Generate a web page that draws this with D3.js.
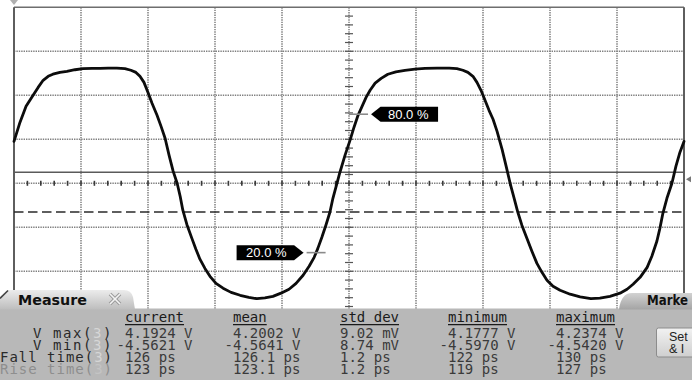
<!DOCTYPE html>
<html>
<head>
<meta charset="utf-8">
<script src="https://cdn.jsdelivr.net/npm/d3@7"></script>
<style>
  html, body { margin: 0; padding: 0; background: #fff; overflow: hidden; }
  svg { display: block; }
</style>
</head>
<body>
<script>
// Channel 3 acquisition: time in ps (relative to screen centre) and voltage in V
const timePs = [
  -1000,-982,-964,-943,-928,-913,-898,-884,-863,-842,
  -818,-794,-767,-743,-719,-693,-669,-651,-636,-624,
  -612,-600,-588,-573,-561,-549,-537,-525,-513,-504,
  -496,-484,-469,-457,-445,-430,-415,-397,-376,-352,
  -325,-299,-275,-251,-227,-203,-179,-158,-137,-119,
  -104,-93,-81,-69,-57,-48,-36,-27,-12,3,
  15,27,39,51,63,78,96,116,140,167,
  197,227,263,299,322,340,355,370,382,394,
  406,418,430,442,457,469,481,493,504,516,
  531,546,561,576,591,609,630,660,690,722,
  749,779,809,830,848,869,890,904,919,928,
  937,949,964,976,988,1000
];
const ch3Volts = [
  1.41,2.14,2.74,3.16,3.46,3.73,3.88,3.96,4.03,4.07,
  4.13,4.17,4.18,4.18,4.19,4.19,4.17,4.11,4.03,3.88,
  3.65,3.27,2.86,2.40,1.98,1.53,0.88,0.28,-0.18,-0.67,
  -1.20,-1.74,-2.27,-2.68,-3.06,-3.41,-3.71,-3.98,-4.16,-4.32,
  -4.43,-4.51,-4.56,-4.53,-4.47,-4.35,-4.20,-3.98,-3.67,-3.33,
  -2.99,-2.65,-2.23,-1.77,-1.28,-0.75,-0.18,0.24,0.88,1.45,
  1.95,2.40,2.74,3.08,3.35,3.62,3.80,3.96,4.05,4.11,
  4.15,4.18,4.19,4.19,4.17,4.11,4.03,3.88,3.65,3.35,
  2.97,2.59,2.25,1.79,1.11,0.47,-0.18,-0.75,-1.28,-1.77,
  -2.27,-2.76,-3.22,-3.56,-3.86,-4.09,-4.24,-4.39,-4.49,-4.56,
  -4.54,-4.47,-4.35,-4.20,-4.01,-3.75,-3.37,-2.95,-2.38,-1.89,
  -1.32,-0.75,-0.18,0.47,1.00,1.41
];

// Timebase and vertical setup
const timePerDiv = 200;     // ps/div
const voltsPerDiv = 1.67;   // V/div
const voltOffset = -0.18;   // V at screen centre
const hDivs = 10;
const vDivs = 8;

// On-screen reference levels (V)
const groundLevel = 0.24;
const triggerLevel = -1.27;

// Rise-time thresholds (percent of top-base)
const thresholdPercents = [80, 20];

// Measurement table
const measureNames   = ["V max", "V min", "Fall time", "Rise time"];
const measureSource  = ["3", "3", "3", "3"];
const measHeaders    = ["current", "mean", "std dev", "minimum", "maximum"];
const measCurrent    = ["4.1924 V", "-4.5621 V", "126 ps", "123 ps"];
const measMean       = ["4.2002 V", "-4.5641 V", "126.1 ps", "123.1 ps"];
const measStdDev     = ["9.02 mV", "8.74 mV", "1.2 ps", "1.2 ps"];
const measMinimum    = ["4.1777 V", "-4.5970 V", "122 ps", "119 ps"];
const measMaximum    = ["4.2374 V", "-4.5420 V", "130 ps", "127 ps"];
const vMaxCurrent = 4.1924;
const vMinCurrent = -4.5621;

// Tabs and button of the panel (only the part that fits on screen)
const panelTabs = ["Measure", "Marke"];
const buttonLines = ["Set", "& I"];

const W = 692, H = 380;
const svg = d3.select("body").append("svg").attr("width", W).attr("height", H);
svg.append("rect").attr("width", W).attr("height", H).attr("fill", "#fff");

const plot = { left: 14, right: 684, top: 7.3, bottom: 359.3 };
const x = d3.scaleLinear()
  .domain([-hDivs / 2 * timePerDiv, hDivs / 2 * timePerDiv])
  .range([plot.left, plot.right]);
const y = d3.scaleLinear()
  .domain([voltOffset - vDivs / 2 * voltsPerDiv, voltOffset + vDivs / 2 * voltsPerDiv])
  .range([plot.bottom, plot.top]);

// ---- graticule ----
const grid = svg.append("g");
const vLines = d3.range(1, hDivs).map(i => x.domain()[0] + i * timePerDiv);
const hLines = d3.range(0, vDivs).map(j => y.domain()[0] + j * voltsPerDiv);
grid.selectAll(".gv").data(vLines).join("line")
  .attr("x1", d => x(d)).attr("x2", d => x(d))
  .attr("y1", plot.top).attr("y2", plot.bottom)
  .attr("stroke", "#808080").attr("stroke-width", 1.5).attr("stroke-dasharray", "1.4,1");
grid.selectAll(".gh").data(hLines).join("line")
  .attr("x1", plot.left).attr("x2", plot.right)
  .attr("y1", d => y(d)).attr("y2", d => y(d))
  .attr("stroke", "#808080").attr("stroke-width", 1.5).attr("stroke-dasharray", "1.4,1");

// frame
grid.append("line").attr("x1", plot.left).attr("x2", plot.right)
  .attr("y1", plot.top).attr("y2", plot.top).attr("stroke", "#6e6e6e").attr("stroke-width", 1.6);
[plot.left, plot.right].forEach(px => grid.append("line")
  .attr("x1", px).attr("x2", px).attr("y1", plot.top).attr("y2", plot.bottom)
  .attr("stroke", "#5e5e5e").attr("stroke-width", 2));

// centre axis ticks
const vTicks = d3.range(-vDivs / 2 * 5 + 1, vDivs / 2 * 5).map(k => voltOffset + k * voltsPerDiv / 5);
grid.selectAll(".vt").data(vTicks).join("line")
  .attr("x1", x(0) - 4).attr("x2", x(0) + 4)
  .attr("y1", d => y(d)).attr("y2", d => y(d))
  .attr("stroke", "#555").attr("stroke-width", 1.2);
const hTicks = d3.range(-hDivs / 2 * 5 + 1, hDivs / 2 * 5).map(k => k * timePerDiv / 5);
grid.selectAll(".ht").data(hTicks).join("line")
  .attr("x1", d => x(d)).attr("x2", d => x(d))
  .attr("y1", y(voltOffset) - 2.5).attr("y2", y(voltOffset) + 2.5)
  .attr("stroke", "#3a3a3a").attr("stroke-width", 1.6);

// reference levels
svg.append("line").attr("x1", plot.left).attr("x2", plot.right)
  .attr("y1", y(groundLevel)).attr("y2", y(groundLevel))
  .attr("stroke", "#5a5a5a").attr("stroke-width", 1.6);
svg.append("line").attr("x1", plot.left).attr("x2", plot.right)
  .attr("y1", y(triggerLevel)).attr("y2", y(triggerLevel))
  .attr("stroke", "#2a2a2a").attr("stroke-width", 1.6).attr("stroke-dasharray", "9.5,4.5");

// side markers
svg.append("path").attr("d", `M${plot.left - 4},0 L${plot.left + 4},0 L${plot.left},5 Z`).attr("fill", "#b0b0b0");
svg.append("path").attr("d", `M${plot.right + 2},${y(groundLevel) + 7} L${plot.right + 7},${y(groundLevel) + 4} L${plot.right + 7},${y(groundLevel) + 10} Z`).attr("fill", "#777");

// ---- waveform ----
const pts = timePs.map((t, i) => [t, ch3Volts[i]]);
svg.append("path").datum(pts)
  .attr("d", d3.line().x(d => x(d[0])).y(d => y(d[1])))
  .attr("fill", "none").attr("stroke", "#0c0c0c").attr("stroke-width", 2.8)
  .attr("stroke-linejoin", "round").attr("stroke-linecap", "round");

// ---- threshold markers on the rising edge nearest the centre ----
function risingCrossing(level) {
  let best = null;
  for (let i = 0; i < pts.length - 1; i++) {
    const [t0, v0] = pts[i], [t1, v1] = pts[i + 1];
    if (v0 < level && v1 >= level) {
      const t = t0 + (level - v0) / (v1 - v0) * (t1 - t0);
      if (best === null || Math.abs(t) < Math.abs(best)) best = t;
    }
  }
  return best;
}
thresholdPercents.forEach(p => {
  const level = vMinCurrent + p / 100 * (vMaxCurrent - vMinCurrent);
  const cx = x(risingCrossing(level)), cy = y(level);
  const g = svg.append("g");
  g.append("line").attr("x1", cx - 9.5).attr("x2", cx + 9.5).attr("y1", cy).attr("y2", cy)
    .attr("stroke", "#8a8a8a").attr("stroke-width", 1.6);
  const right = p >= 50;
  const dir = right ? 1 : -1;
  const tip = cx + dir * 12.5, b0 = cx + dir * 22, b1 = cx + dir * 79.5;
  g.append("path")
    .attr("d", `M${tip},${cy} L${b0},${cy - 7.5} L${b1},${cy - 7.5} L${b1},${cy + 7.5} L${b0},${cy + 7.5} Z`)
    .attr("fill", "#000");
  g.append("text").attr("x", (b0 + b1) / 2 - dir * 1).attr("y", cy + 4.6)
    .attr("text-anchor", "middle").attr("fill", "#fff")
    .attr("font-family", "Liberation Sans, Arial, sans-serif").attr("font-size", 13)
    .text(p.toFixed(1) + " %");
});

// ---- measurement panel ----
const panelTop = 308.5;
const defs = svg.append("defs");
const gTab = defs.append("linearGradient").attr("id", "tabLight").attr("x1", 0).attr("y1", 0).attr("x2", 0).attr("y2", 1);
gTab.append("stop").attr("offset", 0).attr("stop-color", "#ececec");
gTab.append("stop").attr("offset", 1).attr("stop-color", "#bdbdbd");
const gTab2 = defs.append("linearGradient").attr("id", "tabDark").attr("x1", 0).attr("y1", 0).attr("x2", 0).attr("y2", 1);
gTab2.append("stop").attr("offset", 0).attr("stop-color", "#d2d2d2");
gTab2.append("stop").attr("offset", 1).attr("stop-color", "#a4a4a4");
const gBtn = defs.append("linearGradient").attr("id", "btn").attr("x1", 0).attr("y1", 0).attr("x2", 0).attr("y2", 1);
gBtn.append("stop").attr("offset", 0).attr("stop-color", "#f2f2f2");
gBtn.append("stop").attr("offset", 1).attr("stop-color", "#cfcfcf");

svg.append("rect").attr("x", 0).attr("y", panelTop).attr("width", W).attr("height", H - panelTop)
  .attr("fill", "#b8b8b8");

// left tab
svg.append("path")
  .attr("d", `M0,${panelTop + 1} L0,297 L8,290 L124,290 Q131,290 133,297 L135,${panelTop + 1} Z`)
  .attr("fill", "url(#tabLight)");
svg.append("line").attr("x1", 0).attr("y1", 298.5).attr("x2", 8).attr("y2", 290.5)
  .attr("stroke", "#444").attr("stroke-width", 1.6);
svg.append("text").attr("x", 18).attr("y", 305)
  .attr("font-family", "DejaVu Sans, Verdana, sans-serif").attr("font-weight", "bold")
  .attr("font-size", 13.5).attr("fill", "#111").attr("textLength", 69).attr("lengthAdjust", "spacingAndGlyphs")
  .text(panelTabs[0]);
// close glyph
const cg = svg.append("g").attr("transform", "translate(115,299)");
[["#9a9a9a", 3.6], ["#f4f4f4", 1.6]].forEach(([c, w]) => {
  cg.append("line").attr("x1", -5).attr("y1", -5).attr("x2", 5).attr("y2", 5).attr("stroke", c).attr("stroke-width", w);
  cg.append("line").attr("x1", -5).attr("y1", 5).attr("x2", 5).attr("y2", -5).attr("stroke", c).attr("stroke-width", w);
});

// right tab
svg.append("path")
  .attr("d", `M619,${panelTop + 1} Q621,293 632,293 L${W},293 L${W},${panelTop + 1} Z`)
  .attr("fill", "url(#tabDark)");
svg.append("text").attr("x", 647).attr("y", 304.5)
  .attr("font-family", "DejaVu Sans, Verdana, sans-serif").attr("font-weight", "bold")
  .attr("font-size", 13.5).attr("fill", "#111").attr("textLength", 41).attr("lengthAdjust", "spacingAndGlyphs")
  .text(panelTabs[1]);

// button at the right edge
svg.append("rect").attr("x", 656.5).attr("y", 328).attr("width", 40).attr("height", 29).attr("rx", 2)
  .attr("fill", "url(#btn)").attr("stroke", "#8c8c8c").attr("stroke-width", 1);
buttonLines.forEach((s, i) => svg.append("text").attr("x", 669).attr("y", 340.5 + i * 12.5)
  .attr("font-family", "Liberation Sans, Arial, sans-serif")
  .attr("font-size", 12.5).attr("fill", "#222").text(s));

// table
const mono = "DejaVu Sans Mono, Liberation Mono, monospace";
const fs = 14;
const colX = [125, 233, 340, 448, 556];
const headerY = 322;
const rowY = [337.5, 349.6, 361.8, 374];
const columns = [measCurrent, measMean, measStdDev, measMinimum, measMaximum];
const tbl = svg.append("g").attr("font-family", mono).attr("font-size", fs);

// character advance of the monospace face
const probe = tbl.append("text").text("0000000000");
const cw = probe.node().getComputedTextLength() / 10;
probe.remove();

measHeaders.forEach((h, i) => {
  const t = tbl.append("text").attr("x", colX[i]).attr("y", headerY).attr("fill", "#1a1a1a").text(h);
  const w = t.node().getComputedTextLength();
  tbl.append("line").attr("x1", colX[i]).attr("x2", colX[i] + w)
    .attr("y1", headerY + 2.6).attr("y2", headerY + 2.6)
    .attr("stroke", "#1a1a1a").attr("stroke-width", 1.3);
});

// row labels, right-aligned, with the channel number in its own colour
const labelRight = 113;
const labelWidth = [80, 80, 113, 113];
measureNames.forEach((name, r) => {
  const dim = r === 3;
  const parts = [name + "(", measureSource[r], ")"];
  const nChars = parts.join("").length;
  const adv = labelWidth[r] / nChars;
  const ls = adv - cw;
  let cx = labelRight - labelWidth[r];
  parts.forEach((s, k) => {
    tbl.append("text").attr("x", cx).attr("y", rowY[r])
      .attr("letter-spacing", ls)
      .attr("fill", k === 1 ? (dim ? "#c4c4c4" : "#d6d6d6") : (dim ? "#8e8e8e" : "#2a2a2a"))
      .text(s);
    cx += s.length * adv;
  });
  columns.forEach((col, c) => {
    const v = col[r];
    const neg = v.startsWith("-");
    tbl.append("text").attr("x", colX[c] - (neg ? cw : 0)).attr("y", rowY[r])
      .attr("fill", "#3a3a3a").text(v);
  });
});
</script>
</body>
</html>
